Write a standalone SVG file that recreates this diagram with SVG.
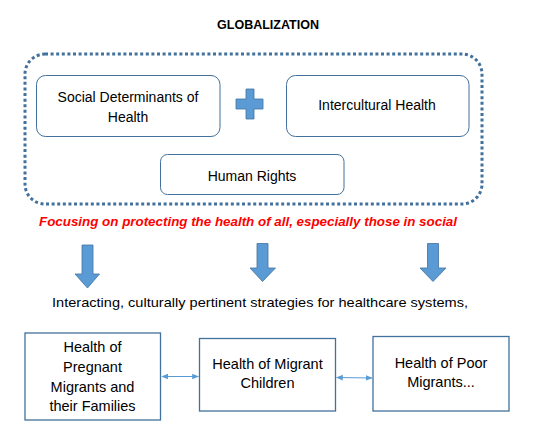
<svg xmlns="http://www.w3.org/2000/svg" width="536" height="431" viewBox="0 0 536 431">
<style>
  text { font-family: "Liberation Sans", Arial, sans-serif; fill: #000; }
  .t { font-size: 14px; text-anchor: middle; }
  .b { font-size: 14.5px; text-anchor: middle; }
  .rbox { fill: #fff; stroke: #41719C; stroke-width: 1; }
  .sbox { fill: #fff; stroke: #41719C; stroke-width: 1.3; }
  .down { fill: #5B9BD5; stroke: #41719C; stroke-width: 0.8; }
  .conn { stroke: #5B9BD5; stroke-width: 1.2; fill: none; marker-start: url(#ah); marker-end: url(#ah); }
</style>
<defs>
  <marker id="ah" viewBox="0 0 10 10" refX="9" refY="5" markerWidth="7" markerHeight="7" orient="auto-start-reverse" markerUnits="userSpaceOnUse">
    <path d="M0,1 L10,5 L0,9 Z" fill="#5B9BD5"/>
  </marker>
</defs>

<text id="title" x="268" y="28.5" font-size="12.5" font-weight="bold" text-anchor="middle">GLOBALIZATION</text>

<g id="container">
  <rect x="25" y="54" width="457" height="150" rx="20" ry="20" fill="none" stroke="#41719C" stroke-width="3" stroke-dasharray="3,2.6"/>
</g>

<g id="node-sdh">
  <rect class="rbox" x="36.5" y="75.5" width="183.5" height="61" rx="9"/>
  <text class="t" x="128" y="102">Social Determinants of</text>
  <text class="t" x="128" y="121.7">Health</text>
</g>

<g id="plus">
  <path class="down" d="M246,89 H254 V99 H263 V109 H254 V119 H246 V109 H236 V99 H246 Z"/>
</g>

<g id="node-ih">
  <rect class="rbox" x="286.5" y="75.5" width="182.5" height="61" rx="9"/>
  <text class="t" x="377" y="110">Intercultural Health</text>
</g>

<g id="node-hr">
  <rect class="rbox" x="160.5" y="154.5" width="183.5" height="40" rx="7"/>
  <text class="t" x="252" y="181">Human Rights</text>
</g>

<text id="focus" x="248" y="225.5" font-size="12.5" font-weight="bold" font-style="italic" text-anchor="middle" style="fill:#FF0000" textLength="418" lengthAdjust="spacingAndGlyphs">Focusing on protecting the health of all, especially those in social</text>

<g id="down-arrows">
  <path class="down" d="M82,245 H93 V274 H99.5 L87.5,288 L75,274 H82 Z"/>
  <path class="down" d="M257,243.5 H268 V268 H275.5 L262.5,281.5 L250,268 H257 Z"/>
  <path class="down" d="M427.5,243.5 H438.5 V268 H446 L433,281.5 L420,268 H427.5 Z"/>
</g>

<text id="strategies" x="260" y="306.5" font-size="13.5" text-anchor="middle" textLength="416" lengthAdjust="spacingAndGlyphs">Interacting, culturally pertinent strategies for healthcare systems,</text>

<g id="node-pregnant">
  <rect class="sbox" x="25" y="333" width="135.5" height="87"/>
  <text class="b" x="92.5" y="352.3">Health of</text>
  <text class="b" x="92.5" y="371.7">Pregnant</text>
  <text class="b" x="92.5" y="391.7">Migrants and</text>
  <text class="b" x="92.5" y="410.7">their Families</text>
</g>

<g id="node-children">
  <rect class="sbox" x="199.5" y="338.5" width="136" height="72.5"/>
  <text class="b" x="267.5" y="369.3">Health of Migrant</text>
  <text class="b" x="267.5" y="388.3">Children</text>
</g>

<g id="node-poor">
  <rect class="sbox" x="373" y="336.5" width="136" height="74.5"/>
  <text class="b" x="441" y="368.3">Health of Poor</text>
  <text class="b" x="441" y="386.7">Migrants...</text>
</g>

<g id="connectors">
  <line class="conn" x1="162" y1="376.5" x2="198.5" y2="376.5"/>
  <line class="conn" x1="336.5" y1="377.5" x2="372" y2="378"/>
</g>
</svg>
